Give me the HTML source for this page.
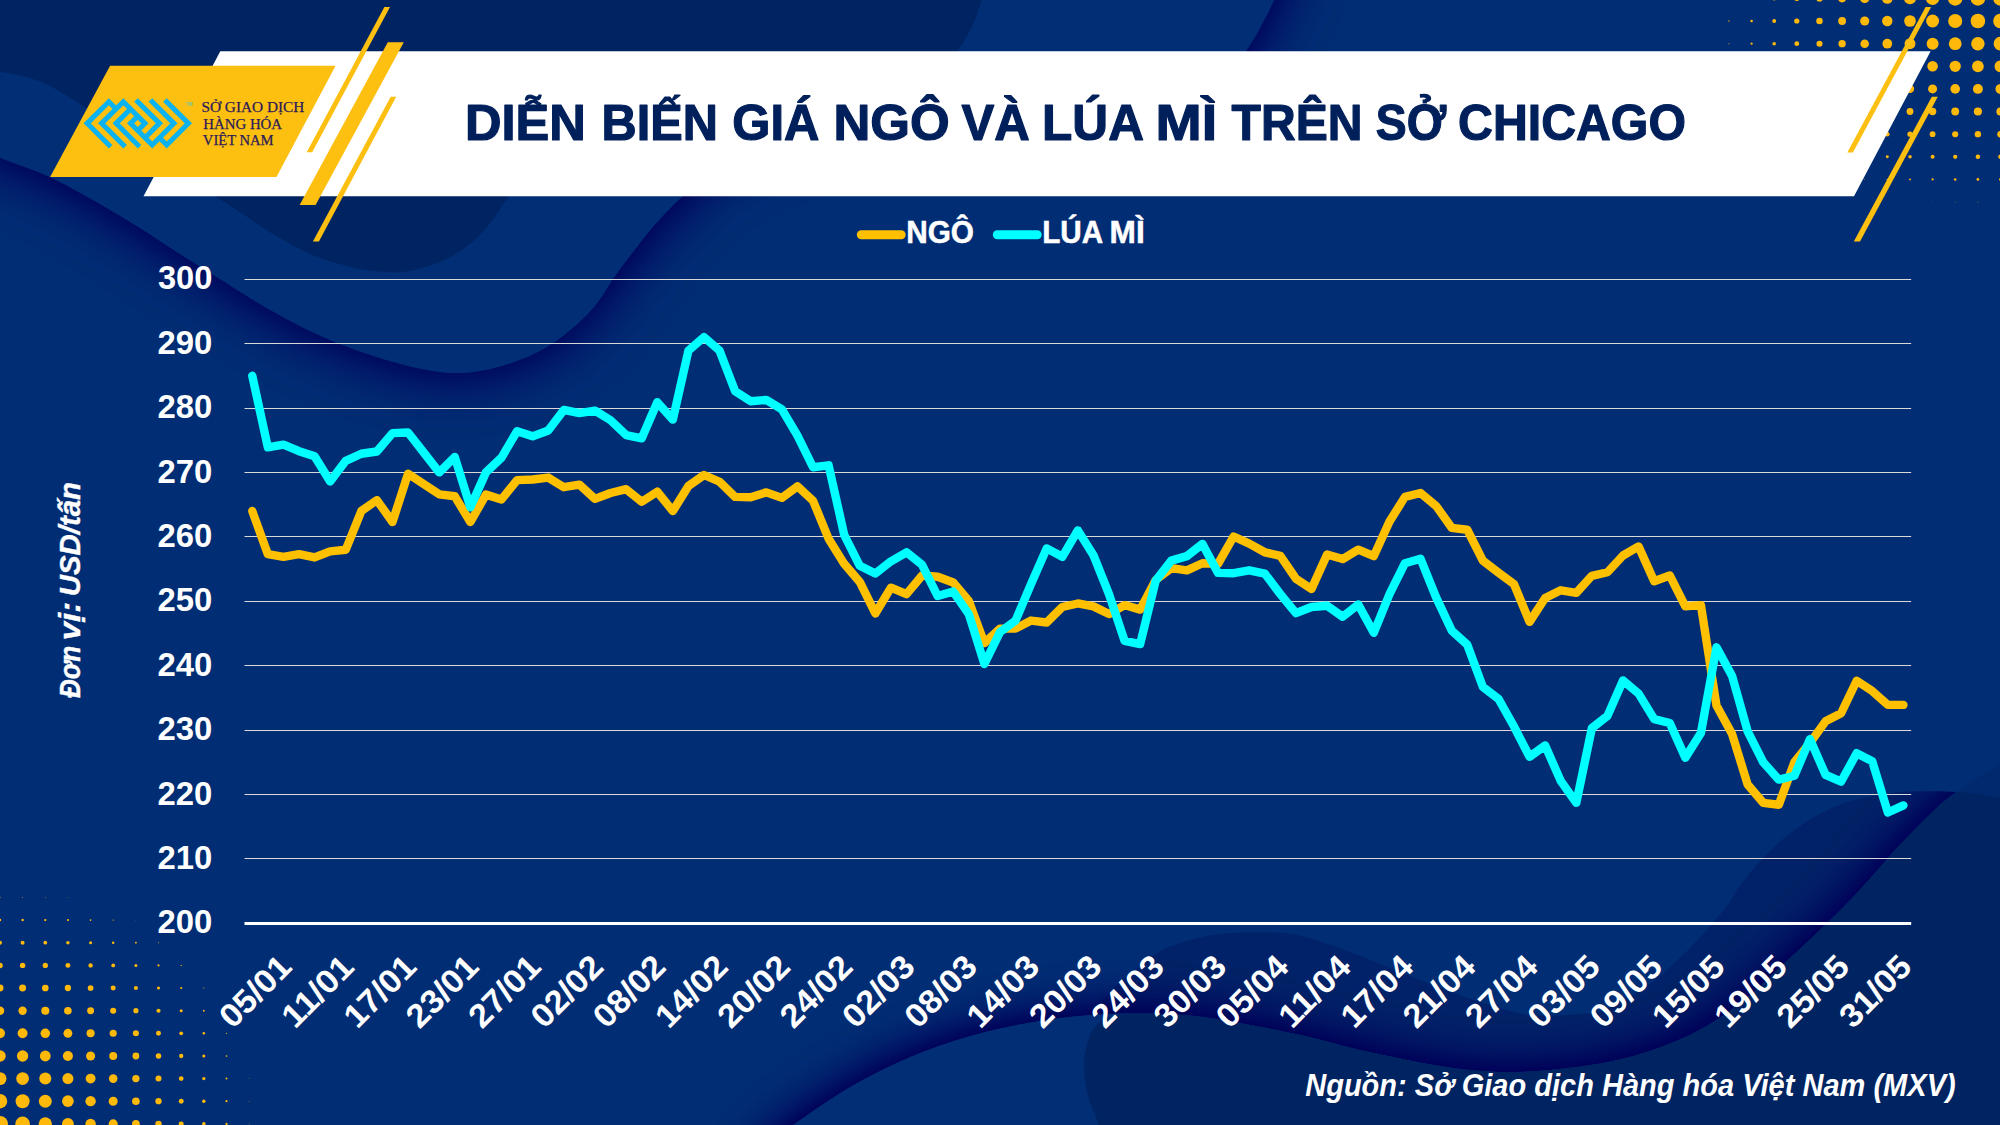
<!DOCTYPE html>
<html lang="vi"><head><meta charset="utf-8"><title>Diễn biến giá ngô và lúa mì trên sở Chicago</title>
<style>html,body{margin:0;padding:0;background:#012d74;}body{width:2000px;height:1125px;overflow:hidden;}svg{display:block;}text{font-family:'Liberation Sans', sans-serif;}</style>
</head><body>
<svg width="2000" height="1125" viewBox="0 0 2000 1125">
<defs>
<filter id="blur1" x="-10%" y="-20%" width="120%" height="150%"><feGaussianBlur stdDeviation="31"/><feComponentTransfer><feFuncA type="linear" slope="1.55" intercept="0"/></feComponentTransfer></filter>
<filter id="blur2" x="-10%" y="-30%" width="120%" height="150%"><feGaussianBlur stdDeviation="25"/><feComponentTransfer><feFuncA type="linear" slope="1.9" intercept="0"/></feComponentTransfer></filter>
<clipPath id="cliptl"><path d="M0,0 H2000 V1125 H0 Z M-80,-80 L-80,140 L-40.0,141.0 C-33.3,143.8 -13.3,152.5 0.0,157.8 C13.3,163.1 30.0,168.7 40.0,172.7 C50.0,176.7 50.0,176.8 60.0,182.0 C70.0,187.2 86.7,196.3 100.0,204.0 C113.3,211.7 126.7,219.7 140.0,228.0 C153.3,236.3 166.7,245.5 180.0,254.0 C193.3,262.5 206.7,270.7 220.0,279.0 C233.3,287.3 246.7,296.2 260.0,304.0 C273.3,311.8 286.7,319.3 300.0,326.0 C313.3,332.7 326.7,338.7 340.0,344.0 C353.3,349.3 366.7,353.9 380.0,358.0 C393.3,362.1 407.3,366.0 420.0,368.5 C432.7,371.0 444.2,373.0 456.0,373.0 C467.8,373.0 479.2,371.4 491.0,368.7 C502.8,366.0 516.4,361.3 526.7,357.0 C537.0,352.7 544.1,348.9 553.0,343.0 C561.9,337.1 572.5,328.3 580.0,321.5 C587.5,314.7 591.9,309.8 597.8,302.0 C603.7,294.2 609.7,283.3 615.6,275.0 C621.5,266.7 627.1,259.7 633.0,252.0 C638.9,244.3 645.0,236.1 651.0,229.0 C657.0,221.9 663.7,215.0 669.0,209.5 C674.3,204.0 674.5,203.4 683.0,196.0 C691.5,188.6 700.5,175.7 720.0,165.0 C739.5,154.3 770.0,138.8 800.0,132.0 C830.0,125.2 858.3,125.3 900.0,124.0 C941.7,122.7 1008.3,125.0 1050.0,124.0 C1091.7,123.0 1122.5,123.7 1150.0,118.0 C1177.5,112.3 1199.0,101.2 1215.0,90.0 C1231.0,78.8 1238.2,62.0 1246.0,51.0 C1253.8,40.0 1257.3,32.5 1262.0,24.0 C1266.7,15.5 1269.3,10.7 1274.0,0.0 C1278.7,-10.7 1287.3,-33.3 1290.0,-40.0 L1290,-80 Z" clip-rule="evenodd"/></clipPath>
<clipPath id="clipbr"><path d="M1040.0,1100.0 C1044.2,1091.7 1056.7,1064.2 1065.0,1050.0 C1073.3,1035.8 1082.5,1024.7 1090.0,1015.0 C1097.5,1005.3 1102.5,999.5 1110.0,992.0 C1117.5,984.5 1125.8,977.2 1135.0,970.0 C1144.2,962.8 1152.5,954.8 1165.0,949.0 C1177.5,943.2 1195.0,938.2 1210.0,935.5 C1225.0,932.8 1240.0,932.5 1255.0,932.5 C1270.0,932.5 1282.5,931.6 1300.0,935.5 C1317.5,939.4 1340.0,948.6 1360.0,956.0 C1380.0,963.4 1400.0,972.3 1420.0,980.0 C1440.0,987.7 1461.7,996.2 1480.0,1002.0 C1498.3,1007.8 1513.3,1013.0 1530.0,1015.0 C1546.7,1017.0 1567.7,1014.8 1580.0,1014.0 C1592.3,1013.2 1592.7,1014.7 1604.0,1010.0 C1615.3,1005.3 1633.3,996.3 1648.0,985.6 C1662.7,974.9 1679.2,958.8 1692.0,946.0 C1704.8,933.2 1717.0,918.7 1725.0,908.6 C1733.0,898.5 1734.2,893.4 1740.0,885.6 C1745.8,877.8 1753.1,869.2 1759.6,862.0 C1766.1,854.8 1772.5,848.4 1779.0,842.6 C1785.5,836.8 1792.2,831.6 1798.7,827.0 C1805.2,822.4 1811.5,818.6 1818.0,815.0 C1824.5,811.4 1831.3,808.0 1837.8,805.4 C1844.3,802.8 1850.5,801.2 1857.0,799.6 C1863.5,798.0 1870.5,796.8 1877.0,795.6 C1883.5,794.5 1889.5,793.4 1896.0,792.7 C1902.5,792.0 1909.4,791.5 1916.0,791.3 C1922.6,791.1 1929.0,791.2 1935.5,791.3 C1942.0,791.4 1948.5,791.6 1955.0,792.0 C1961.5,792.4 1967.1,792.8 1974.6,793.7 C1982.1,794.6 1985.8,795.2 2000.0,797.6 C2014.2,800.0 2050.0,806.3 2060.0,808.0 L2060,1200 L1040,1200 Z M0,800 L1305,800 L1090,1015 L1090,1125 L0,1125 Z"/></clipPath>
<clipPath id="clipq"><path d="M1040.0,1100.0 C1044.2,1091.7 1056.7,1064.2 1065.0,1050.0 C1073.3,1035.8 1082.5,1024.7 1090.0,1015.0 C1097.5,1005.3 1102.5,999.5 1110.0,992.0 C1117.5,984.5 1125.8,977.2 1135.0,970.0 C1144.2,962.8 1152.5,954.8 1165.0,949.0 C1177.5,943.2 1195.0,938.2 1210.0,935.5 C1225.0,932.8 1240.0,932.5 1255.0,932.5 C1270.0,932.5 1282.5,931.6 1300.0,935.5 C1317.5,939.4 1340.0,948.6 1360.0,956.0 C1380.0,963.4 1400.0,972.3 1420.0,980.0 C1440.0,987.7 1461.7,996.2 1480.0,1002.0 C1498.3,1007.8 1513.3,1013.0 1530.0,1015.0 C1546.7,1017.0 1567.7,1014.8 1580.0,1014.0 C1592.3,1013.2 1592.7,1014.7 1604.0,1010.0 C1615.3,1005.3 1633.3,996.3 1648.0,985.6 C1662.7,974.9 1679.2,958.8 1692.0,946.0 C1704.8,933.2 1717.0,918.7 1725.0,908.6 C1733.0,898.5 1734.2,893.4 1740.0,885.6 C1745.8,877.8 1753.1,869.2 1759.6,862.0 C1766.1,854.8 1772.5,848.4 1779.0,842.6 C1785.5,836.8 1792.2,831.6 1798.7,827.0 C1805.2,822.4 1811.5,818.6 1818.0,815.0 C1824.5,811.4 1831.3,808.0 1837.8,805.4 C1844.3,802.8 1850.5,801.2 1857.0,799.6 C1863.5,798.0 1870.5,796.8 1877.0,795.6 C1883.5,794.5 1889.5,793.4 1896.0,792.7 C1902.5,792.0 1909.4,791.5 1916.0,791.3 C1922.6,791.1 1929.0,791.2 1935.5,791.3 C1942.0,791.4 1948.5,791.6 1955.0,792.0 C1961.5,792.4 1967.1,792.8 1974.6,793.7 C1982.1,794.6 1985.8,795.2 2000.0,797.6 C2014.2,800.0 2050.0,806.3 2060.0,808.0 L2060,1200 L1040,1200 Z"/></clipPath>
</defs>
<rect width="2000" height="1125" fill="#012d74"/>
<g clip-path="url(#cliptl)"><path d="M-80,-80 L-80,140 L-40.0,141.0 C-33.3,143.8 -13.3,152.5 0.0,157.8 C13.3,163.1 30.0,168.7 40.0,172.7 C50.0,176.7 50.0,176.8 60.0,182.0 C70.0,187.2 86.7,196.3 100.0,204.0 C113.3,211.7 126.7,219.7 140.0,228.0 C153.3,236.3 166.7,245.5 180.0,254.0 C193.3,262.5 206.7,270.7 220.0,279.0 C233.3,287.3 246.7,296.2 260.0,304.0 C273.3,311.8 286.7,319.3 300.0,326.0 C313.3,332.7 326.7,338.7 340.0,344.0 C353.3,349.3 366.7,353.9 380.0,358.0 C393.3,362.1 407.3,366.0 420.0,368.5 C432.7,371.0 444.2,373.0 456.0,373.0 C467.8,373.0 479.2,371.4 491.0,368.7 C502.8,366.0 516.4,361.3 526.7,357.0 C537.0,352.7 544.1,348.9 553.0,343.0 C561.9,337.1 572.5,328.3 580.0,321.5 C587.5,314.7 591.9,309.8 597.8,302.0 C603.7,294.2 609.7,283.3 615.6,275.0 C621.5,266.7 627.1,259.7 633.0,252.0 C638.9,244.3 645.0,236.1 651.0,229.0 C657.0,221.9 663.7,215.0 669.0,209.5 C674.3,204.0 674.5,203.4 683.0,196.0 C691.5,188.6 700.5,175.7 720.0,165.0 C739.5,154.3 770.0,138.8 800.0,132.0 C830.0,125.2 858.3,125.3 900.0,124.0 C941.7,122.7 1008.3,125.0 1050.0,124.0 C1091.7,123.0 1122.5,123.7 1150.0,118.0 C1177.5,112.3 1199.0,101.2 1215.0,90.0 C1231.0,78.8 1238.2,62.0 1246.0,51.0 C1253.8,40.0 1257.3,32.5 1262.0,24.0 C1266.7,15.5 1269.3,10.7 1274.0,0.0 C1278.7,-10.7 1287.3,-33.3 1290.0,-40.0 L1290,-80 Z" fill="#000c58" filter="url(#blur1)"/></g>
<path d="M-80,-80 L-80,140 L-40.0,141.0 C-33.3,143.8 -13.3,152.5 0.0,157.8 C13.3,163.1 30.0,168.7 40.0,172.7 C50.0,176.7 50.0,176.8 60.0,182.0 C70.0,187.2 86.7,196.3 100.0,204.0 C113.3,211.7 126.7,219.7 140.0,228.0 C153.3,236.3 166.7,245.5 180.0,254.0 C193.3,262.5 206.7,270.7 220.0,279.0 C233.3,287.3 246.7,296.2 260.0,304.0 C273.3,311.8 286.7,319.3 300.0,326.0 C313.3,332.7 326.7,338.7 340.0,344.0 C353.3,349.3 366.7,353.9 380.0,358.0 C393.3,362.1 407.3,366.0 420.0,368.5 C432.7,371.0 444.2,373.0 456.0,373.0 C467.8,373.0 479.2,371.4 491.0,368.7 C502.8,366.0 516.4,361.3 526.7,357.0 C537.0,352.7 544.1,348.9 553.0,343.0 C561.9,337.1 572.5,328.3 580.0,321.5 C587.5,314.7 591.9,309.8 597.8,302.0 C603.7,294.2 609.7,283.3 615.6,275.0 C621.5,266.7 627.1,259.7 633.0,252.0 C638.9,244.3 645.0,236.1 651.0,229.0 C657.0,221.9 663.7,215.0 669.0,209.5 C674.3,204.0 674.5,203.4 683.0,196.0 C691.5,188.6 700.5,175.7 720.0,165.0 C739.5,154.3 770.0,138.8 800.0,132.0 C830.0,125.2 858.3,125.3 900.0,124.0 C941.7,122.7 1008.3,125.0 1050.0,124.0 C1091.7,123.0 1122.5,123.7 1150.0,118.0 C1177.5,112.3 1199.0,101.2 1215.0,90.0 C1231.0,78.8 1238.2,62.0 1246.0,51.0 C1253.8,40.0 1257.3,32.5 1262.0,24.0 C1266.7,15.5 1269.3,10.7 1274.0,0.0 C1278.7,-10.7 1287.3,-33.3 1290.0,-40.0 L1290,-80 Z" fill="#012e75"/>
<path d="M-80,-80 L-80,68 L-40.0,68.0 C-33.3,68.7 -11.0,70.5 0.0,72.0 C11.0,73.5 17.3,74.5 26.0,77.0 C34.7,79.5 39.7,80.2 52.0,87.0 C64.3,93.8 83.7,105.8 100.0,118.0 C116.3,130.2 131.0,147.0 150.0,160.0 C169.0,173.0 199.0,187.3 214.0,196.0 C229.0,204.7 232.3,207.0 240.0,212.0 C247.7,217.0 253.3,221.7 260.0,226.0 C266.7,230.3 273.3,234.2 280.0,238.0 C286.7,241.8 293.3,245.7 300.0,249.0 C306.7,252.3 313.3,255.5 320.0,258.0 C326.7,260.5 333.3,262.2 340.0,264.0 C346.7,265.8 353.3,267.7 360.0,269.0 C366.7,270.3 373.3,271.1 380.0,271.6 C386.7,272.1 393.3,272.5 400.0,272.0 C406.7,271.5 412.2,270.7 420.0,268.5 C427.8,266.3 437.9,263.5 446.7,259.0 C455.5,254.5 465.6,247.7 473.0,241.5 C480.4,235.3 485.9,228.2 491.0,222.0 C496.1,215.8 500.5,208.3 503.5,204.0 C506.5,199.7 505.4,203.3 509.0,196.0 C512.6,188.7 509.8,172.0 525.0,160.0 C540.2,148.0 562.5,131.0 600.0,124.0 C637.5,117.0 703.3,122.0 750.0,118.0 C796.7,114.0 849.2,107.2 880.0,100.0 C910.8,92.8 922.1,83.2 935.0,75.0 C947.9,66.8 951.3,59.2 957.5,51.0 C963.7,42.8 967.9,34.5 972.0,26.0 C976.1,17.5 978.2,11.0 982.0,0.0 C985.8,-11.0 992.8,-33.3 995.0,-40.0 L995,-80 Z" fill="#002361"/>
<path d="M1040.0,1100.0 C1044.2,1091.7 1056.7,1064.2 1065.0,1050.0 C1073.3,1035.8 1082.5,1024.7 1090.0,1015.0 C1097.5,1005.3 1102.5,999.5 1110.0,992.0 C1117.5,984.5 1125.8,977.2 1135.0,970.0 C1144.2,962.8 1152.5,954.8 1165.0,949.0 C1177.5,943.2 1195.0,938.2 1210.0,935.5 C1225.0,932.8 1240.0,932.5 1255.0,932.5 C1270.0,932.5 1282.5,931.6 1300.0,935.5 C1317.5,939.4 1340.0,948.6 1360.0,956.0 C1380.0,963.4 1400.0,972.3 1420.0,980.0 C1440.0,987.7 1461.7,996.2 1480.0,1002.0 C1498.3,1007.8 1513.3,1013.0 1530.0,1015.0 C1546.7,1017.0 1567.7,1014.8 1580.0,1014.0 C1592.3,1013.2 1592.7,1014.7 1604.0,1010.0 C1615.3,1005.3 1633.3,996.3 1648.0,985.6 C1662.7,974.9 1679.2,958.8 1692.0,946.0 C1704.8,933.2 1717.0,918.7 1725.0,908.6 C1733.0,898.5 1734.2,893.4 1740.0,885.6 C1745.8,877.8 1753.1,869.2 1759.6,862.0 C1766.1,854.8 1772.5,848.4 1779.0,842.6 C1785.5,836.8 1792.2,831.6 1798.7,827.0 C1805.2,822.4 1811.5,818.6 1818.0,815.0 C1824.5,811.4 1831.3,808.0 1837.8,805.4 C1844.3,802.8 1850.5,801.2 1857.0,799.6 C1863.5,798.0 1870.5,796.8 1877.0,795.6 C1883.5,794.5 1889.5,793.4 1896.0,792.7 C1902.5,792.0 1909.4,791.5 1916.0,791.3 C1922.6,791.1 1929.0,791.2 1935.5,791.3 C1942.0,791.4 1948.5,791.6 1955.0,792.0 C1961.5,792.4 1967.1,792.8 1974.6,793.7 C1982.1,794.6 1985.8,795.2 2000.0,797.6 C2014.2,800.0 2050.0,806.3 2060.0,808.0 L2060,1200 L1040,1200 Z" fill="#012268"/>
<g clip-path="url(#clipbr)"><path d="M760.0,1150.0 C765.5,1145.8 778.0,1135.5 793.0,1125.0 C808.0,1114.5 830.5,1098.3 850.0,1087.0 C869.5,1075.7 890.0,1065.5 910.0,1057.0 C930.0,1048.5 950.0,1041.8 970.0,1036.0 C990.0,1030.2 1010.0,1026.0 1030.0,1022.5 C1050.0,1019.0 1070.0,1016.5 1090.0,1015.0 C1110.0,1013.5 1130.0,1013.0 1150.0,1013.5 C1170.0,1014.0 1185.0,1014.4 1210.0,1018.0 C1235.0,1021.6 1275.0,1029.7 1300.0,1035.0 C1325.0,1040.3 1336.7,1044.8 1360.0,1050.0 C1383.3,1055.2 1416.7,1062.3 1440.0,1066.0 C1463.3,1069.7 1480.0,1071.5 1500.0,1072.0 C1520.0,1072.5 1539.0,1071.3 1560.0,1069.0 C1581.0,1066.7 1604.0,1063.8 1626.0,1058.0 C1648.0,1052.2 1672.3,1043.7 1692.0,1034.0 C1711.7,1024.3 1729.5,1011.0 1744.0,1000.0 C1758.5,989.0 1766.7,979.3 1779.0,968.0 C1791.3,956.7 1805.0,944.5 1818.0,932.0 C1831.0,919.5 1843.8,907.0 1857.0,893.0 C1870.2,879.0 1884.0,861.9 1897.0,848.0 C1910.0,834.1 1925.3,818.7 1935.0,809.5 C1944.7,800.3 1948.3,797.9 1955.0,793.0 C1961.7,788.1 1967.5,784.7 1975.0,780.0 C1982.5,775.3 1985.8,772.5 2000.0,765.0 C2014.2,757.5 2050.0,740.0 2060.0,735.0 L2060,1200 L760,1200 Z" fill="#000c58" filter="url(#blur2)"/></g>
<path d="M760.0,1150.0 C765.5,1145.8 778.0,1135.5 793.0,1125.0 C808.0,1114.5 830.5,1098.3 850.0,1087.0 C869.5,1075.7 890.0,1065.5 910.0,1057.0 C930.0,1048.5 950.0,1041.8 970.0,1036.0 C990.0,1030.2 1010.0,1026.0 1030.0,1022.5 C1050.0,1019.0 1070.0,1016.5 1090.0,1015.0 C1110.0,1013.5 1130.0,1013.0 1150.0,1013.5 C1170.0,1014.0 1185.0,1014.4 1210.0,1018.0 C1235.0,1021.6 1275.0,1029.7 1300.0,1035.0 C1325.0,1040.3 1336.7,1044.8 1360.0,1050.0 C1383.3,1055.2 1416.7,1062.3 1440.0,1066.0 C1463.3,1069.7 1480.0,1071.5 1500.0,1072.0 C1520.0,1072.5 1539.0,1071.3 1560.0,1069.0 C1581.0,1066.7 1604.0,1063.8 1626.0,1058.0 C1648.0,1052.2 1672.3,1043.7 1692.0,1034.0 C1711.7,1024.3 1729.5,1011.0 1744.0,1000.0 C1758.5,989.0 1766.7,979.3 1779.0,968.0 C1791.3,956.7 1805.0,944.5 1818.0,932.0 C1831.0,919.5 1843.8,907.0 1857.0,893.0 C1870.2,879.0 1884.0,861.9 1897.0,848.0 C1910.0,834.1 1925.3,818.7 1935.0,809.5 C1944.7,800.3 1948.3,797.9 1955.0,793.0 C1961.7,788.1 1967.5,784.7 1975.0,780.0 C1982.5,775.3 1985.8,772.5 2000.0,765.0 C2014.2,757.5 2050.0,740.0 2060.0,735.0 L2060,1200 L760,1200 Z" fill="#012e75"/>
<path d="M1105.0,1150.0 C1104.0,1145.8 1101.8,1134.2 1099.0,1125.0 C1096.2,1115.8 1090.5,1104.8 1088.0,1095.0 C1085.5,1085.2 1084.2,1074.3 1084.0,1066.0 C1083.8,1057.7 1085.5,1051.0 1087.0,1045.0 C1088.5,1039.0 1090.3,1034.2 1093.0,1030.0 C1095.7,1025.8 1098.2,1022.6 1103.0,1020.0 C1107.8,1017.4 1114.2,1015.6 1122.0,1014.5 C1129.8,1013.4 1135.3,1012.9 1150.0,1013.5 C1164.7,1014.1 1185.0,1014.4 1210.0,1018.0 C1235.0,1021.6 1275.0,1029.7 1300.0,1035.0 C1325.0,1040.3 1336.7,1044.8 1360.0,1050.0 C1383.3,1055.2 1416.7,1062.3 1440.0,1066.0 C1463.3,1069.7 1480.0,1071.5 1500.0,1072.0 C1520.0,1072.5 1539.0,1071.3 1560.0,1069.0 C1581.0,1066.7 1604.0,1063.8 1626.0,1058.0 C1648.0,1052.2 1672.3,1043.7 1692.0,1034.0 C1711.7,1024.3 1729.5,1011.0 1744.0,1000.0 C1758.5,989.0 1766.7,979.3 1779.0,968.0 C1791.3,956.7 1805.0,944.5 1818.0,932.0 C1831.0,919.5 1843.8,907.0 1857.0,893.0 C1870.2,879.0 1884.0,861.9 1897.0,848.0 C1910.0,834.1 1925.3,818.7 1935.0,809.5 C1944.7,800.3 1948.3,797.9 1955.0,793.0 C1961.7,788.1 1967.5,784.7 1975.0,780.0 C1982.5,775.3 1985.8,772.5 2000.0,765.0 C2014.2,757.5 2050.0,740.0 2060.0,735.0 L2060,1200 L1105,1200 Z" fill="#01296d"/>
<g clip-path="url(#clipq)"><path d="M1105.0,1150.0 C1104.0,1145.8 1101.8,1134.2 1099.0,1125.0 C1096.2,1115.8 1090.5,1104.8 1088.0,1095.0 C1085.5,1085.2 1084.2,1074.3 1084.0,1066.0 C1083.8,1057.7 1085.5,1051.0 1087.0,1045.0 C1088.5,1039.0 1090.3,1034.2 1093.0,1030.0 C1095.7,1025.8 1098.2,1022.6 1103.0,1020.0 C1107.8,1017.4 1114.2,1015.6 1122.0,1014.5 C1129.8,1013.4 1135.3,1012.9 1150.0,1013.5 C1164.7,1014.1 1185.0,1014.4 1210.0,1018.0 C1235.0,1021.6 1275.0,1029.7 1300.0,1035.0 C1325.0,1040.3 1336.7,1044.8 1360.0,1050.0 C1383.3,1055.2 1416.7,1062.3 1440.0,1066.0 C1463.3,1069.7 1480.0,1071.5 1500.0,1072.0 C1520.0,1072.5 1539.0,1071.3 1560.0,1069.0 C1581.0,1066.7 1604.0,1063.8 1626.0,1058.0 C1648.0,1052.2 1672.3,1043.7 1692.0,1034.0 C1711.7,1024.3 1729.5,1011.0 1744.0,1000.0 C1758.5,989.0 1766.7,979.3 1779.0,968.0 C1791.3,956.7 1805.0,944.5 1818.0,932.0 C1831.0,919.5 1843.8,907.0 1857.0,893.0 C1870.2,879.0 1884.0,861.9 1897.0,848.0 C1910.0,834.1 1925.3,818.7 1935.0,809.5 C1944.7,800.3 1948.3,797.9 1955.0,793.0 C1961.7,788.1 1967.5,784.7 1975.0,780.0 C1982.5,775.3 1985.8,772.5 2000.0,765.0 C2014.2,757.5 2050.0,740.0 2060.0,735.0 L2060,1200 L1105,1200 Z" fill="#002361"/></g>
<g fill="#ffb90a"><circle cx="2000.5" cy="-1.6" r="7.30"/><circle cx="1977.9" cy="-1.6" r="7.30"/><circle cx="1955.2" cy="-1.6" r="7.29"/><circle cx="1932.6" cy="-1.6" r="6.63"/><circle cx="1910.0" cy="-1.6" r="5.97"/><circle cx="1887.3" cy="-1.6" r="5.32"/><circle cx="1864.7" cy="-1.6" r="4.66"/><circle cx="1842.1" cy="-1.6" r="4.00"/><circle cx="1819.5" cy="-1.6" r="3.34"/><circle cx="1796.8" cy="-1.6" r="2.68"/><circle cx="1774.2" cy="-1.6" r="2.02"/><circle cx="1751.6" cy="-1.6" r="1.36"/><circle cx="1728.9" cy="-1.6" r="0.70"/><circle cx="2000.5" cy="21.0" r="7.30"/><circle cx="1977.9" cy="21.0" r="7.30"/><circle cx="1955.2" cy="21.0" r="7.05"/><circle cx="1932.6" cy="21.0" r="6.46"/><circle cx="1910.0" cy="21.0" r="5.84"/><circle cx="1887.3" cy="21.0" r="5.21"/><circle cx="1864.7" cy="21.0" r="4.57"/><circle cx="1842.1" cy="21.0" r="3.92"/><circle cx="1819.5" cy="21.0" r="3.27"/><circle cx="1796.8" cy="21.0" r="2.62"/><circle cx="1774.2" cy="21.0" r="1.96"/><circle cx="1751.6" cy="21.0" r="1.31"/><circle cx="1728.9" cy="21.0" r="0.65"/><circle cx="2000.5" cy="43.7" r="6.85"/><circle cx="1977.9" cy="43.7" r="6.73"/><circle cx="1955.2" cy="43.7" r="6.41"/><circle cx="1932.6" cy="43.7" r="5.97"/><circle cx="1910.0" cy="43.7" r="5.44"/><circle cx="1887.3" cy="43.7" r="4.88"/><circle cx="1864.7" cy="43.7" r="4.28"/><circle cx="1842.1" cy="43.7" r="3.67"/><circle cx="1819.5" cy="43.7" r="3.05"/><circle cx="1796.8" cy="43.7" r="2.42"/><circle cx="1774.2" cy="43.7" r="1.79"/><circle cx="1751.6" cy="43.7" r="1.15"/><circle cx="1728.9" cy="43.7" r="0.51"/><circle cx="2000.5" cy="66.3" r="5.94"/><circle cx="1977.9" cy="66.3" r="5.86"/><circle cx="1955.2" cy="66.3" r="5.63"/><circle cx="1932.6" cy="66.3" r="5.29"/><circle cx="1910.0" cy="66.3" r="4.86"/><circle cx="1887.3" cy="66.3" r="4.37"/><circle cx="1864.7" cy="66.3" r="3.84"/><circle cx="1842.1" cy="66.3" r="3.28"/><circle cx="1819.5" cy="66.3" r="2.70"/><circle cx="1796.8" cy="66.3" r="2.11"/><circle cx="1774.2" cy="66.3" r="1.50"/><circle cx="1751.6" cy="66.3" r="0.88"/><circle cx="1728.9" cy="66.3" r="0.26"/><circle cx="2000.5" cy="88.9" r="5.03"/><circle cx="1977.9" cy="88.9" r="4.97"/><circle cx="1955.2" cy="88.9" r="4.80"/><circle cx="1932.6" cy="88.9" r="4.52"/><circle cx="1910.0" cy="88.9" r="4.17"/><circle cx="1887.3" cy="88.9" r="3.75"/><circle cx="1864.7" cy="88.9" r="3.28"/><circle cx="1842.1" cy="88.9" r="2.77"/><circle cx="1819.5" cy="88.9" r="2.24"/><circle cx="1796.8" cy="88.9" r="1.68"/><circle cx="1774.2" cy="88.9" r="1.11"/><circle cx="1751.6" cy="88.9" r="0.52"/><circle cx="2000.5" cy="111.5" r="4.12"/><circle cx="1977.9" cy="111.5" r="4.07"/><circle cx="1955.2" cy="111.5" r="3.93"/><circle cx="1932.6" cy="111.5" r="3.71"/><circle cx="1910.0" cy="111.5" r="3.41"/><circle cx="1887.3" cy="111.5" r="3.04"/><circle cx="1864.7" cy="111.5" r="2.63"/><circle cx="1842.1" cy="111.5" r="2.17"/><circle cx="1819.5" cy="111.5" r="1.69"/><circle cx="1796.8" cy="111.5" r="1.17"/><circle cx="1774.2" cy="111.5" r="0.64"/><circle cx="2000.5" cy="134.2" r="3.21"/><circle cx="1977.9" cy="134.2" r="3.17"/><circle cx="1955.2" cy="134.2" r="3.05"/><circle cx="1932.6" cy="134.2" r="2.86"/><circle cx="1910.0" cy="134.2" r="2.60"/><circle cx="1887.3" cy="134.2" r="2.29"/><circle cx="1864.7" cy="134.2" r="1.92"/><circle cx="1842.1" cy="134.2" r="1.51"/><circle cx="1819.5" cy="134.2" r="1.06"/><circle cx="1796.8" cy="134.2" r="0.59"/><circle cx="2000.5" cy="156.8" r="2.30"/><circle cx="1977.9" cy="156.8" r="2.27"/><circle cx="1955.2" cy="156.8" r="2.16"/><circle cx="1932.6" cy="156.8" r="2.00"/><circle cx="1910.0" cy="156.8" r="1.77"/><circle cx="1887.3" cy="156.8" r="1.49"/><circle cx="1864.7" cy="156.8" r="1.17"/><circle cx="1842.1" cy="156.8" r="0.80"/><circle cx="1819.5" cy="156.8" r="0.39"/><circle cx="2000.5" cy="179.4" r="1.39"/><circle cx="1977.9" cy="179.4" r="1.36"/><circle cx="1955.2" cy="179.4" r="1.27"/><circle cx="1932.6" cy="179.4" r="1.13"/><circle cx="1910.0" cy="179.4" r="0.93"/><circle cx="1887.3" cy="179.4" r="0.68"/><circle cx="1864.7" cy="179.4" r="0.38"/><circle cx="2000.5" cy="202.1" r="0.48"/><circle cx="1977.9" cy="202.1" r="0.45"/><circle cx="1955.2" cy="202.1" r="0.38"/><circle cx="1932.6" cy="202.1" r="0.25"/></g>
<g fill="#ffb90a"><circle cx="0.0" cy="1123.9" r="7.96"/><circle cx="22.6" cy="1123.9" r="7.31"/><circle cx="45.3" cy="1123.9" r="6.62"/><circle cx="67.9" cy="1123.9" r="5.93"/><circle cx="90.6" cy="1123.9" r="5.24"/><circle cx="113.2" cy="1123.9" r="4.56"/><circle cx="135.9" cy="1123.9" r="3.87"/><circle cx="158.5" cy="1123.9" r="3.18"/><circle cx="181.2" cy="1123.9" r="2.49"/><circle cx="203.8" cy="1123.9" r="1.80"/><circle cx="226.5" cy="1123.9" r="1.11"/><circle cx="249.1" cy="1123.9" r="0.42"/><circle cx="0.0" cy="1101.2" r="7.22"/><circle cx="22.6" cy="1101.2" r="6.99"/><circle cx="45.3" cy="1101.2" r="6.45"/><circle cx="67.9" cy="1101.2" r="5.83"/><circle cx="90.6" cy="1101.2" r="5.17"/><circle cx="113.2" cy="1101.2" r="4.50"/><circle cx="135.9" cy="1101.2" r="3.82"/><circle cx="158.5" cy="1101.2" r="3.14"/><circle cx="181.2" cy="1101.2" r="2.45"/><circle cx="203.8" cy="1101.2" r="1.77"/><circle cx="226.5" cy="1101.2" r="1.08"/><circle cx="249.1" cy="1101.2" r="0.40"/><circle cx="0.0" cy="1078.6" r="6.47"/><circle cx="22.6" cy="1078.6" r="6.36"/><circle cx="45.3" cy="1078.6" r="6.01"/><circle cx="67.9" cy="1078.6" r="5.50"/><circle cx="90.6" cy="1078.6" r="4.92"/><circle cx="113.2" cy="1078.6" r="4.30"/><circle cx="135.9" cy="1078.6" r="3.66"/><circle cx="158.5" cy="1078.6" r="3.01"/><circle cx="181.2" cy="1078.6" r="2.34"/><circle cx="203.8" cy="1078.6" r="1.67"/><circle cx="226.5" cy="1078.6" r="1.00"/><circle cx="249.1" cy="1078.6" r="0.32"/><circle cx="0.0" cy="1056.0" r="5.73"/><circle cx="22.6" cy="1056.0" r="5.65"/><circle cx="45.3" cy="1056.0" r="5.41"/><circle cx="67.9" cy="1056.0" r="5.02"/><circle cx="90.6" cy="1056.0" r="4.54"/><circle cx="113.2" cy="1056.0" r="3.98"/><circle cx="135.9" cy="1056.0" r="3.39"/><circle cx="158.5" cy="1056.0" r="2.78"/><circle cx="181.2" cy="1056.0" r="2.14"/><circle cx="203.8" cy="1056.0" r="1.50"/><circle cx="226.5" cy="1056.0" r="0.84"/><circle cx="0.0" cy="1033.3" r="4.98"/><circle cx="22.6" cy="1033.3" r="4.93"/><circle cx="45.3" cy="1033.3" r="4.75"/><circle cx="67.9" cy="1033.3" r="4.44"/><circle cx="90.6" cy="1033.3" r="4.04"/><circle cx="113.2" cy="1033.3" r="3.56"/><circle cx="135.9" cy="1033.3" r="3.03"/><circle cx="158.5" cy="1033.3" r="2.46"/><circle cx="181.2" cy="1033.3" r="1.86"/><circle cx="203.8" cy="1033.3" r="1.25"/><circle cx="226.5" cy="1033.3" r="0.62"/><circle cx="0.0" cy="1010.7" r="4.24"/><circle cx="22.6" cy="1010.7" r="4.19"/><circle cx="45.3" cy="1010.7" r="4.05"/><circle cx="67.9" cy="1010.7" r="3.81"/><circle cx="90.6" cy="1010.7" r="3.47"/><circle cx="113.2" cy="1010.7" r="3.05"/><circle cx="135.9" cy="1010.7" r="2.58"/><circle cx="158.5" cy="1010.7" r="2.06"/><circle cx="181.2" cy="1010.7" r="1.51"/><circle cx="203.8" cy="1010.7" r="0.93"/><circle cx="226.5" cy="1010.7" r="0.33"/><circle cx="0.0" cy="988.0" r="3.49"/><circle cx="22.6" cy="988.0" r="3.46"/><circle cx="45.3" cy="988.0" r="3.34"/><circle cx="67.9" cy="988.0" r="3.14"/><circle cx="90.6" cy="988.0" r="2.85"/><circle cx="113.2" cy="988.0" r="2.49"/><circle cx="135.9" cy="988.0" r="2.07"/><circle cx="158.5" cy="988.0" r="1.60"/><circle cx="181.2" cy="988.0" r="1.09"/><circle cx="203.8" cy="988.0" r="0.55"/><circle cx="0.0" cy="965.4" r="2.74"/><circle cx="22.6" cy="965.4" r="2.72"/><circle cx="45.3" cy="965.4" r="2.62"/><circle cx="67.9" cy="965.4" r="2.45"/><circle cx="90.6" cy="965.4" r="2.20"/><circle cx="113.2" cy="965.4" r="1.89"/><circle cx="135.9" cy="965.4" r="1.51"/><circle cx="158.5" cy="965.4" r="1.09"/><circle cx="181.2" cy="965.4" r="0.62"/><circle cx="0.0" cy="942.7" r="2.00"/><circle cx="22.6" cy="942.7" r="1.98"/><circle cx="45.3" cy="942.7" r="1.89"/><circle cx="67.9" cy="942.7" r="1.74"/><circle cx="90.6" cy="942.7" r="1.53"/><circle cx="113.2" cy="942.7" r="1.25"/><circle cx="135.9" cy="942.7" r="0.92"/><circle cx="158.5" cy="942.7" r="0.53"/><circle cx="0.0" cy="920.1" r="1.25"/><circle cx="22.6" cy="920.1" r="1.23"/><circle cx="45.3" cy="920.1" r="1.16"/><circle cx="67.9" cy="920.1" r="1.03"/><circle cx="90.6" cy="920.1" r="0.84"/><circle cx="113.2" cy="920.1" r="0.59"/><circle cx="135.9" cy="920.1" r="0.29"/><circle cx="0.0" cy="897.4" r="0.51"/><circle cx="22.6" cy="897.4" r="0.49"/><circle cx="45.3" cy="897.4" r="0.43"/><circle cx="67.9" cy="897.4" r="0.31"/></g>
<polygon points="220.3,51.3 1930.6,51.3 1854,196.2 143.5,196.2" fill="#ffffff"/>
<polygon points="110.1,65.8 335.6,65.8 276.5,176.9 50.1,176.9" fill="#fdc010"/>
<polygon points="384.4,7.1 390,7.1 312.2,152.2 306.7,152.2" fill="#fdc010"/>
<polygon points="387.8,42.2 403.8,42.2 315.6,204.9 299.6,204.9" fill="#fdc010"/>
<polygon points="390.7,96.7 396.2,96.7 318.9,241.6 312.9,241.6" fill="#fdc010"/>
<polygon points="1925.6,7.1 1931.1,7.1 1852.9,152.4 1847.3,152.4" fill="#fdc010"/>
<polygon points="1931.8,96.7 1937.8,96.7 1860,241.6 1853.8,241.6" fill="#fdc010"/>
<path d="M110.64,146.73 L87.13,123.33 L108.83,101.73 L117.52,110.37 M125.11,146.73 L101.60,123.33 L123.31,101.73 L145.01,123.33 L136.33,131.97 M139.58,146.73 L116.07,123.33 L131.99,107.49 M164.91,99.93 L188.42,123.33 L166.72,144.93 L158.03,136.29 M150.44,99.93 L173.95,123.33 L152.25,144.93 L130.54,123.33 L139.22,114.69 M135.97,99.93 L159.48,123.33 L143.56,139.17 " fill="none" stroke="#0ab3f0" stroke-width="5.07" stroke-linejoin="miter" stroke-miterlimit="4" stroke-linecap="butt"/>
<text x="186" y="105.5" font-size="4.5" font-weight="700" fill="#6fc7a0">TM</text>
<text x="201.48" y="111.8" font-size="15" textLength="102.86" lengthAdjust="spacingAndGlyphs" fill="#2b1a5a" stroke="#2b1a5a" stroke-width="0.25" style="font-family:'Liberation Serif', serif">SỞ GIAO DỊCH</text>
<text x="203.30" y="128.8" font-size="15" textLength="78.73" lengthAdjust="spacingAndGlyphs" fill="#2b1a5a" stroke="#2b1a5a" stroke-width="0.25" style="font-family:'Liberation Serif', serif">HÀNG HÓA</text>
<text x="202.85" y="145.2" font-size="15" textLength="70.77" lengthAdjust="spacingAndGlyphs" fill="#2b1a5a" stroke="#2b1a5a" stroke-width="0.25" style="font-family:'Liberation Serif', serif">VIỆT NAM</text>
<text y="140.4" font-size="50.5" font-weight="700" fill="#00205b" stroke="#00205b" stroke-width="1.2" stroke-linejoin="round" xml:space="preserve"><tspan x="464.96" textLength="120.88" lengthAdjust="spacingAndGlyphs">DIỄN</tspan> <tspan x="601.58" textLength="116.45" lengthAdjust="spacingAndGlyphs">BIẾN</tspan> <tspan x="732.34" textLength="87.04" lengthAdjust="spacingAndGlyphs">GIÁ</tspan> <tspan x="833.44" textLength="116.29" lengthAdjust="spacingAndGlyphs">NGÔ</tspan> <tspan x="961.50" textLength="68.29" lengthAdjust="spacingAndGlyphs">VÀ</tspan> <tspan x="1042.08" textLength="100.00" lengthAdjust="spacingAndGlyphs">LÚA</tspan> <tspan x="1155.57" textLength="61.58" lengthAdjust="spacingAndGlyphs">MÌ</tspan> <tspan x="1231.62" textLength="130.87" lengthAdjust="spacingAndGlyphs">TRÊN</tspan> <tspan x="1375.77" textLength="70.40" lengthAdjust="spacingAndGlyphs">SỞ</tspan> <tspan x="1458.07" textLength="227.86" lengthAdjust="spacingAndGlyphs">CHICAGO</tspan></text>
<line x1="861.3" y1="234.7" x2="901.2" y2="234.7" stroke="#ffc000" stroke-width="9" stroke-linecap="round"/>
<text x="906.22" y="243" font-size="30.5" font-weight="700" fill="#fff" stroke="#fff" stroke-width="0.5" textLength="67.66" lengthAdjust="spacingAndGlyphs">NGÔ</text>
<line x1="997.3" y1="234.7" x2="1037.2" y2="234.7" stroke="#00ffff" stroke-width="9" stroke-linecap="round"/>
<text y="243" font-size="30.5" font-weight="700" fill="#fff" stroke="#fff" stroke-width="0.5" xml:space="preserve"><tspan x="1042.25" textLength="59.89" lengthAdjust="spacingAndGlyphs">LÚA</tspan> <tspan x="1109.60" textLength="35.11" lengthAdjust="spacingAndGlyphs">MÌ</tspan></text>
<line x1="244.5" y1="858.5" x2="1911.2" y2="858.5" stroke="#d9d9d9" stroke-width="1"/>
<line x1="244.5" y1="794.5" x2="1911.2" y2="794.5" stroke="#d9d9d9" stroke-width="1"/>
<line x1="244.5" y1="730.5" x2="1911.2" y2="730.5" stroke="#d9d9d9" stroke-width="1"/>
<line x1="244.5" y1="665.5" x2="1911.2" y2="665.5" stroke="#d9d9d9" stroke-width="1"/>
<line x1="244.5" y1="601.5" x2="1911.2" y2="601.5" stroke="#d9d9d9" stroke-width="1"/>
<line x1="244.5" y1="536.5" x2="1911.2" y2="536.5" stroke="#d9d9d9" stroke-width="1"/>
<line x1="244.5" y1="472.5" x2="1911.2" y2="472.5" stroke="#d9d9d9" stroke-width="1"/>
<line x1="244.5" y1="408.5" x2="1911.2" y2="408.5" stroke="#d9d9d9" stroke-width="1"/>
<line x1="244.5" y1="343.5" x2="1911.2" y2="343.5" stroke="#d9d9d9" stroke-width="1"/>
<line x1="244.5" y1="279.5" x2="1911.2" y2="279.5" stroke="#d9d9d9" stroke-width="1"/>
<line x1="244.5" y1="923.5" x2="1911.2" y2="923.5" stroke="#ffffff" stroke-width="3"/>
<text x="157.62" y="933.46" font-size="33" font-weight="700" fill="#fff" textLength="54.77" lengthAdjust="spacingAndGlyphs">200</text>
<text x="157.62" y="869.06" font-size="33" font-weight="700" fill="#fff" textLength="54.77" lengthAdjust="spacingAndGlyphs">210</text>
<text x="157.62" y="804.65" font-size="33" font-weight="700" fill="#fff" textLength="54.77" lengthAdjust="spacingAndGlyphs">220</text>
<text x="157.62" y="740.24" font-size="33" font-weight="700" fill="#fff" textLength="54.77" lengthAdjust="spacingAndGlyphs">230</text>
<text x="157.62" y="675.84" font-size="33" font-weight="700" fill="#fff" textLength="54.77" lengthAdjust="spacingAndGlyphs">240</text>
<text x="157.62" y="611.43" font-size="33" font-weight="700" fill="#fff" textLength="54.77" lengthAdjust="spacingAndGlyphs">250</text>
<text x="157.62" y="547.02" font-size="33" font-weight="700" fill="#fff" textLength="54.77" lengthAdjust="spacingAndGlyphs">260</text>
<text x="157.62" y="482.61" font-size="33" font-weight="700" fill="#fff" textLength="54.77" lengthAdjust="spacingAndGlyphs">270</text>
<text x="157.62" y="418.21" font-size="33" font-weight="700" fill="#fff" textLength="54.77" lengthAdjust="spacingAndGlyphs">280</text>
<text x="157.62" y="353.80" font-size="33" font-weight="700" fill="#fff" textLength="54.77" lengthAdjust="spacingAndGlyphs">290</text>
<text x="157.95" y="289.39" font-size="33" font-weight="700" fill="#fff" textLength="54.43" lengthAdjust="spacingAndGlyphs">300</text>
<text transform="translate(79.5,697.8) rotate(-90)" y="0" font-size="29.33" font-weight="700" font-style="italic" fill="#fff" stroke="#fff" stroke-width="0.4" xml:space="preserve"><tspan x="-0.26" textLength="52.12" lengthAdjust="spacingAndGlyphs">Đơn</tspan> <tspan x="57.66" textLength="38.25" lengthAdjust="spacingAndGlyphs">vị:</tspan> <tspan x="101.53" textLength="114.27" lengthAdjust="spacingAndGlyphs">USD/tấn</tspan></text>
<polyline points="252.29,511.06 267.86,554.21 283.44,556.79 299.02,554.21 314.59,557.43 330.17,551.31 345.75,549.70 361.32,511.06 376.90,500.11 392.48,522.01 408.05,473.70 423.63,484.01 439.21,494.31 454.78,496.24 470.36,522.01 485.94,494.63 501.51,499.46 517.09,480.14 532.67,479.50 548.24,477.57 563.82,487.23 579.40,484.65 594.97,498.82 610.55,493.02 626.13,489.16 641.70,501.72 657.28,491.74 672.86,511.06 688.43,485.94 704.01,474.99 719.59,481.75 735.16,496.89 750.74,497.21 766.32,492.38 781.89,497.85 797.47,486.26 813.05,500.75 828.62,538.75 844.20,563.87 859.78,581.91 875.35,613.47 890.93,587.70 906.51,594.14 922.08,575.47 937.66,576.75 953.24,582.55 968.81,600.91 984.39,643.09 999.97,628.60 1015.54,628.60 1031.12,620.55 1046.70,622.48 1062.27,607.02 1077.85,603.48 1093.43,606.38 1109.00,614.11 1124.58,605.09 1140.16,609.60 1155.73,579.97 1171.31,568.06 1186.89,570.31 1202.46,563.23 1218.04,563.87 1233.62,536.50 1249.19,543.58 1264.77,552.28 1280.35,555.82 1295.92,578.69 1311.50,588.99 1327.08,554.53 1342.65,559.04 1358.23,549.70 1373.81,556.14 1389.38,521.69 1404.96,496.89 1420.54,493.02 1436.11,505.91 1451.69,527.80 1467.27,529.74 1482.84,560.65 1498.42,572.57 1514.00,584.16 1529.57,621.84 1545.15,598.01 1560.73,590.28 1576.30,592.86 1591.88,575.79 1607.46,572.24 1623.03,555.50 1638.61,546.48 1654.19,581.26 1669.76,575.47 1685.34,606.38 1700.92,605.09 1716.49,705.57 1732.07,733.91 1747.65,784.47 1763.22,802.82 1778.80,804.75 1794.38,762.25 1809.95,742.92 1825.53,721.35 1841.11,713.30 1856.68,680.77 1872.26,691.08 1887.84,704.92 1903.41,704.92" fill="none" stroke="#ffc000" stroke-width="8.4" stroke-linejoin="round" stroke-linecap="round"/>
<polyline points="252.29,375.80 267.86,447.30 283.44,444.72 299.02,451.16 314.59,456.31 330.17,481.43 345.75,460.82 361.32,453.74 376.90,451.48 392.48,433.13 408.05,432.48 423.63,452.45 439.21,472.41 454.78,456.96 470.36,507.19 485.94,472.41 501.51,457.60 517.09,431.19 532.67,436.35 548.24,430.55 563.82,409.94 579.40,413.16 594.97,410.58 610.55,420.24 626.13,435.06 641.70,438.28 657.28,402.21 672.86,419.60 688.43,350.68 704.01,337.16 719.59,350.68 735.16,391.26 750.74,401.24 766.32,399.96 781.89,409.30 797.47,435.70 813.05,467.26 828.62,465.33 844.20,534.89 859.78,565.80 875.35,573.53 890.93,561.30 906.51,552.28 922.08,564.84 937.66,596.08 953.24,591.57 968.81,614.11 984.39,664.02 999.97,632.14 1015.54,620.55 1031.12,583.84 1046.70,548.41 1062.27,556.79 1077.85,530.38 1093.43,555.18 1109.00,594.14 1124.58,640.84 1140.16,644.06 1155.73,580.62 1171.31,560.65 1186.89,556.14 1202.46,543.91 1218.04,572.89 1233.62,573.21 1249.19,570.31 1264.77,573.53 1280.35,594.14 1295.92,613.14 1311.50,607.02 1327.08,605.74 1342.65,616.69 1358.23,604.45 1373.81,632.79 1389.38,594.47 1404.96,563.23 1420.54,558.72 1436.11,597.36 1451.69,630.53 1467.27,644.70 1482.84,686.89 1498.42,698.80 1514.00,726.50 1529.57,756.77 1545.15,745.50 1560.73,780.92 1576.30,802.82 1591.88,728.11 1607.46,715.87 1623.03,680.45 1638.61,693.65 1654.19,719.09 1669.76,722.96 1685.34,757.74 1700.92,732.94 1716.49,647.28 1732.07,675.94 1747.65,731.33 1763.22,762.25 1778.80,779.64 1794.38,775.77 1809.95,739.06 1825.53,774.80 1841.11,781.57 1856.68,753.23 1872.26,761.28 1887.84,812.48 1903.41,805.40" fill="none" stroke="#00ffff" stroke-width="8.4" stroke-linejoin="round" stroke-linecap="round"/>
<text transform="translate(293.69,968.8) rotate(-45)" font-size="33" font-weight="700" fill="#fff" text-anchor="end" textLength="86.3" lengthAdjust="spacingAndGlyphs">05/01</text>
<text transform="translate(355.99,968.8) rotate(-45)" font-size="33" font-weight="700" fill="#fff" text-anchor="end" textLength="86.3" lengthAdjust="spacingAndGlyphs">11/01</text>
<text transform="translate(418.30,968.8) rotate(-45)" font-size="33" font-weight="700" fill="#fff" text-anchor="end" textLength="86.3" lengthAdjust="spacingAndGlyphs">17/01</text>
<text transform="translate(480.61,968.8) rotate(-45)" font-size="33" font-weight="700" fill="#fff" text-anchor="end" textLength="86.3" lengthAdjust="spacingAndGlyphs">23/01</text>
<text transform="translate(542.91,968.8) rotate(-45)" font-size="33" font-weight="700" fill="#fff" text-anchor="end" textLength="86.3" lengthAdjust="spacingAndGlyphs">27/01</text>
<text transform="translate(605.22,968.8) rotate(-45)" font-size="33" font-weight="700" fill="#fff" text-anchor="end" textLength="86.3" lengthAdjust="spacingAndGlyphs">02/02</text>
<text transform="translate(667.53,968.8) rotate(-45)" font-size="33" font-weight="700" fill="#fff" text-anchor="end" textLength="86.3" lengthAdjust="spacingAndGlyphs">08/02</text>
<text transform="translate(729.83,968.8) rotate(-45)" font-size="33" font-weight="700" fill="#fff" text-anchor="end" textLength="86.3" lengthAdjust="spacingAndGlyphs">14/02</text>
<text transform="translate(792.14,968.8) rotate(-45)" font-size="33" font-weight="700" fill="#fff" text-anchor="end" textLength="86.3" lengthAdjust="spacingAndGlyphs">20/02</text>
<text transform="translate(854.45,968.8) rotate(-45)" font-size="33" font-weight="700" fill="#fff" text-anchor="end" textLength="86.3" lengthAdjust="spacingAndGlyphs">24/02</text>
<text transform="translate(916.75,968.8) rotate(-45)" font-size="33" font-weight="700" fill="#fff" text-anchor="end" textLength="86.3" lengthAdjust="spacingAndGlyphs">02/03</text>
<text transform="translate(979.06,968.8) rotate(-45)" font-size="33" font-weight="700" fill="#fff" text-anchor="end" textLength="86.3" lengthAdjust="spacingAndGlyphs">08/03</text>
<text transform="translate(1041.37,968.8) rotate(-45)" font-size="33" font-weight="700" fill="#fff" text-anchor="end" textLength="86.3" lengthAdjust="spacingAndGlyphs">14/03</text>
<text transform="translate(1103.67,968.8) rotate(-45)" font-size="33" font-weight="700" fill="#fff" text-anchor="end" textLength="86.3" lengthAdjust="spacingAndGlyphs">20/03</text>
<text transform="translate(1165.98,968.8) rotate(-45)" font-size="33" font-weight="700" fill="#fff" text-anchor="end" textLength="86.3" lengthAdjust="spacingAndGlyphs">24/03</text>
<text transform="translate(1228.29,968.8) rotate(-45)" font-size="33" font-weight="700" fill="#fff" text-anchor="end" textLength="86.3" lengthAdjust="spacingAndGlyphs">30/03</text>
<text transform="translate(1290.59,968.8) rotate(-45)" font-size="33" font-weight="700" fill="#fff" text-anchor="end" textLength="86.3" lengthAdjust="spacingAndGlyphs">05/04</text>
<text transform="translate(1352.90,968.8) rotate(-45)" font-size="33" font-weight="700" fill="#fff" text-anchor="end" textLength="86.3" lengthAdjust="spacingAndGlyphs">11/04</text>
<text transform="translate(1415.21,968.8) rotate(-45)" font-size="33" font-weight="700" fill="#fff" text-anchor="end" textLength="86.3" lengthAdjust="spacingAndGlyphs">17/04</text>
<text transform="translate(1477.51,968.8) rotate(-45)" font-size="33" font-weight="700" fill="#fff" text-anchor="end" textLength="86.3" lengthAdjust="spacingAndGlyphs">21/04</text>
<text transform="translate(1539.82,968.8) rotate(-45)" font-size="33" font-weight="700" fill="#fff" text-anchor="end" textLength="86.3" lengthAdjust="spacingAndGlyphs">27/04</text>
<text transform="translate(1602.13,968.8) rotate(-45)" font-size="33" font-weight="700" fill="#fff" text-anchor="end" textLength="86.3" lengthAdjust="spacingAndGlyphs">03/05</text>
<text transform="translate(1664.43,968.8) rotate(-45)" font-size="33" font-weight="700" fill="#fff" text-anchor="end" textLength="86.3" lengthAdjust="spacingAndGlyphs">09/05</text>
<text transform="translate(1726.74,968.8) rotate(-45)" font-size="33" font-weight="700" fill="#fff" text-anchor="end" textLength="86.3" lengthAdjust="spacingAndGlyphs">15/05</text>
<text transform="translate(1789.05,968.8) rotate(-45)" font-size="33" font-weight="700" fill="#fff" text-anchor="end" textLength="86.3" lengthAdjust="spacingAndGlyphs">19/05</text>
<text transform="translate(1851.35,968.8) rotate(-45)" font-size="33" font-weight="700" fill="#fff" text-anchor="end" textLength="86.3" lengthAdjust="spacingAndGlyphs">25/05</text>
<text transform="translate(1913.66,968.8) rotate(-45)" font-size="33" font-weight="700" fill="#fff" text-anchor="end" textLength="86.3" lengthAdjust="spacingAndGlyphs">31/05</text>
<text x="1305.21" y="1095.9" font-size="30.5" font-weight="700" font-style="italic" fill="#fff" textLength="650.46" lengthAdjust="spacingAndGlyphs">Nguồn: Sở Giao dịch Hàng hóa Việt Nam (MXV)</text>
</svg></body></html>
